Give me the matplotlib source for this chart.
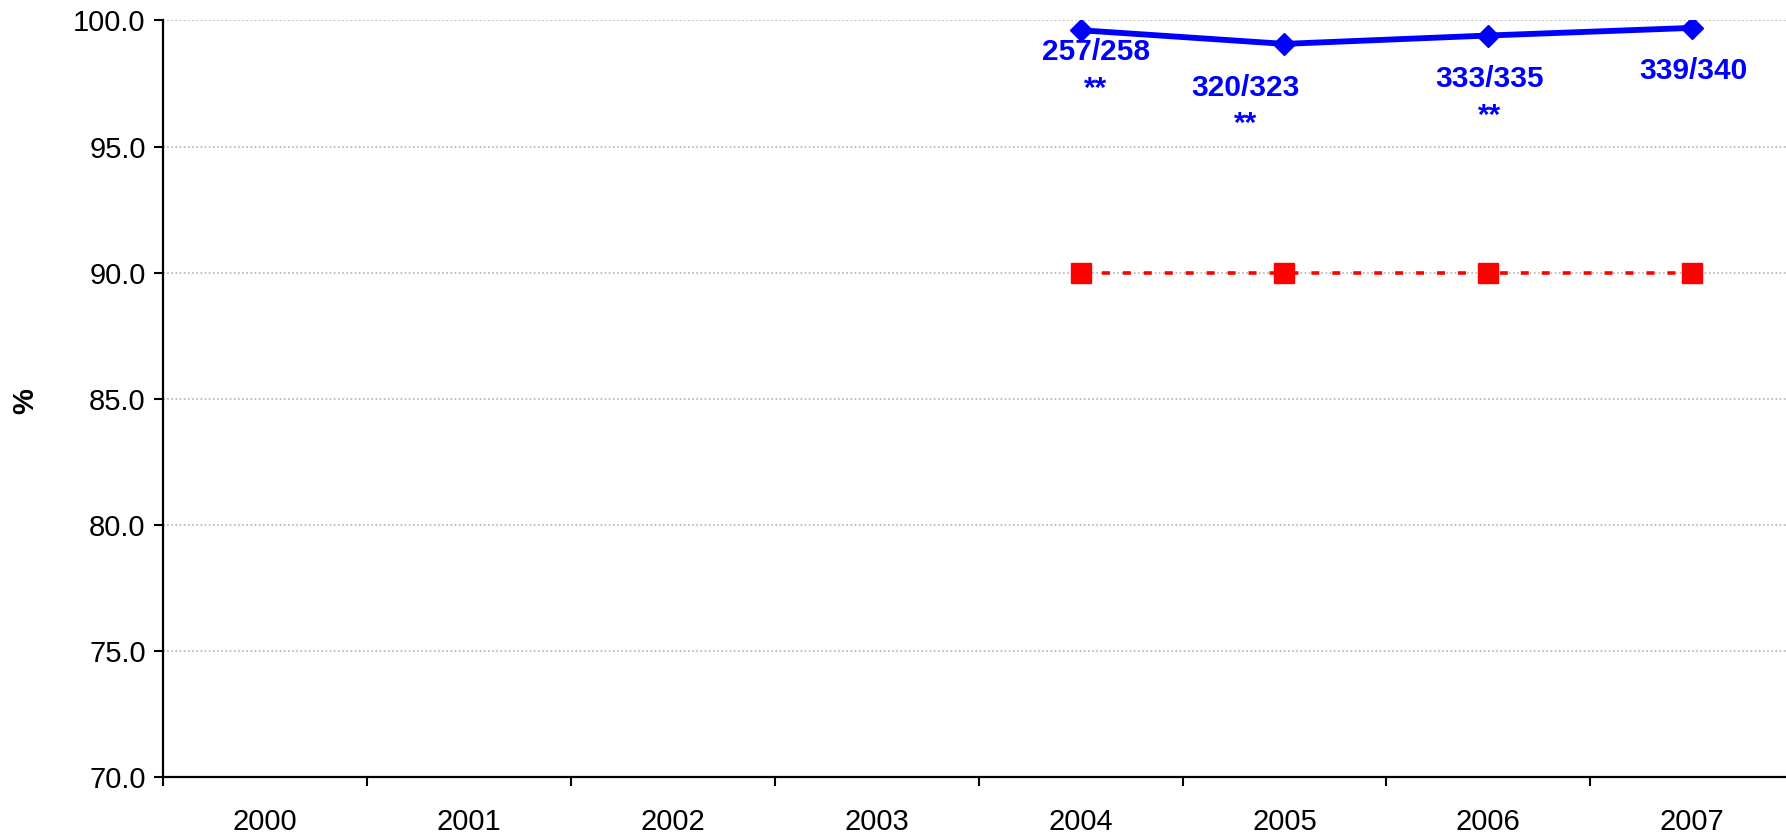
import matplotlib

matplotlib.use("Agg")
import matplotlib.pyplot as plt
import numpy as np

years = ["2000", "2001", "2002", "2003", "2004", "2005", "2006", "2007"]
blue_years = ["2004", "2005", "2006", "2007"]
numerators = [257, 320, 333, 339]
denominators = [258, 323, 335, 340]
stars = ["**", "**", "**", ""]
target_years = ["2004", "2005", "2006", "2007"]
target_values = [90.0, 90.0, 90.0, 90.0]
y_ticks = [70.0, 75.0, 80.0, 85.0, 90.0, 95.0, 100.0]

# label offsets in points (dx, dy) relative to each point
label_offsets = [(11, -15.5), (-28, -31.5), (1, -31.5), (1, -31)]

plt.rcParams["font.family"] = ["Liberation Sans", "DejaVu Sans"]

blue = "#0000FF"
red = "#FF0000"

fig = plt.figure(figsize=(17.86, 8.35), dpi=100)
ax = fig.add_axes([0.0913, 0.0695, 0.9133, 0.906])

xpos = {y: i for i, y in enumerate(years)}
bx = [xpos[y] for y in blue_years]
bvals = [n / d * 100 for n, d in zip(numerators, denominators)]
tx = [xpos[y] for y in target_years]

ax.plot(tx, target_values, color=red, lw=2.6, dashes=(2.2, 3.6),
        marker="s", ms=14, mec=red, mfc=red, zorder=3)
ax.plot(bx, bvals, color=blue, lw=4.2, marker="D", ms=11.5,
        mec=blue, mfc=blue, zorder=4)

for x, v, n, d, s, (dx, dy) in zip(bx, bvals, numerators, denominators, stars, label_offsets):
    ax.annotate(f"{n}/{d}", (x, v), xytext=(dx, dy), textcoords="offset points",
                ha="center", va="center", color=blue, fontsize=21.5, fontweight="bold")
    if s:
        ax.annotate(s, (x, v), xytext=(dx, dy - 26.5), textcoords="offset points",
                    ha="center", va="center", color=blue, fontsize=21.5, fontweight="bold")

ax.set_xlim(-0.5, len(years) - 0.5)
ax.set_ylim(70, 100)
ax.set_yticks(y_ticks)
ax.set_yticklabels([f"{t:.1f}" for t in y_ticks], fontsize=21)
ax.yaxis.grid(True, color="#b4b4b4", linestyle=(0, (1, 1.5)), lw=1.2)
ax.set_axisbelow(True)

ax.set_xticks(np.arange(-0.5, len(years), 1.0))
ax.set_xticklabels([])
ax.set_xticks(np.arange(len(years)), minor=True)
ax.set_xticklabels(years, minor=True, fontsize=21)
ax.tick_params(axis="x", which="minor", length=0, pad=22)
ax.tick_params(axis="x", which="major", length=6.5, width=1.5, direction="out")
ax.tick_params(axis="y", length=6.5, width=1.5, direction="out", pad=6)

for side in ("top", "right"):
    ax.spines[side].set_visible(False)
for side in ("left", "bottom"):
    ax.spines[side].set_linewidth(1.6)

fig.text(0.014, 0.52, "%", rotation=90, ha="center", va="center",
         fontsize=21, fontweight="bold")

fig.savefig("out.png", dpi=100)
